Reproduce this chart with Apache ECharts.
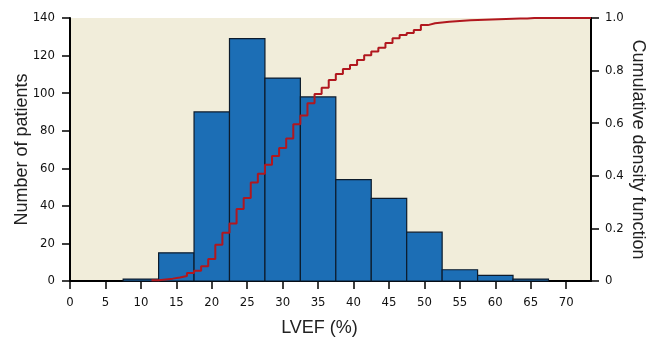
<!DOCTYPE html>
<html>
<head>
<meta charset="utf-8">
<script src="https://cdn.jsdelivr.net/npm/echarts@6/dist/echarts.min.js"></script>
<style>
  html, body { margin: 0; background: #fff; }
  #main { width: 646px; height: 337px; }
</style>
</head>
<body>
<div id="main"></div>
<script>
// histogram bins (LVEF %, centre of each 5-point bin) and patient counts
const binCenters = [10, 15, 20, 25, 30, 35, 40, 45, 50, 55, 60, 65];
const binWidth = 5;
const patientCounts = [1, 15, 90, 129, 108, 98, 54, 44, 26, 6, 3, 1];

// empirical CDF, one value per integer LVEF starting at 12
const cdfStart = 12;
const cdfValues = [
  0.003, 0.006, 0.009, 0.013, 0.019, 0.030, 0.039, 0.056, 0.084, 0.138,
  0.183, 0.219, 0.274, 0.316, 0.375, 0.408, 0.442, 0.475, 0.506, 0.542,
  0.596, 0.629, 0.676, 0.711, 0.735, 0.764, 0.787, 0.806, 0.821, 0.840,
  0.858, 0.873, 0.887, 0.905, 0.923, 0.935, 0.943, 0.954, 0.973, 0.980,
  0.983, 0.986, 0.988, 0.990, 0.991, 0.992, 0.993, 0.994, 0.995, 0.996,
  0.997, 0.998, 0.998, 1.0, 1.0, 1.0, 1.0, 1.0, 1.0, 1.0, 1.0, 1.0
];

const xTicks = [0, 5, 10, 15, 20, 25, 30, 35, 40, 45, 50, 55, 60, 65, 70];
const xMax = 73.5;

const histData = binCenters.map((c, i) => [c, patientCounts[i]]);

// step 'end' with points on the left edge of each integer cell (k - 0.5)
const cdfData = cdfValues.map((v, i) => [cdfStart + i - 0.5, v]);
cdfData.push([xMax, cdfValues[cdfValues.length - 1]]);

const tickFont = "'Liberation Sans Narrow', 'DejaVu Sans Condensed', sans-serif";
const nameFont = "'Liberation Sans', Arial, sans-serif";

const myChart = echarts.init(document.getElementById('main'));

const tickLabel = {
  fontFamily: tickFont,
  fontSize: 13,
  color: '#111'
};

const option = {
  animation: false,
  backgroundColor: '#fff',
  grid: {
    left: 70,
    right: 55,
    top: 18,
    bottom: 56,
    outerBoundsMode: 'none',
    containLabel: false,
    show: true,
    backgroundColor: '#f1edda',
    borderWidth: 0
  },
  xAxis: {
    type: 'value',
    min: 0,
    max: xMax,
    interval: 5,
    name: 'LVEF (%)',
    nameLocation: 'middle',
    nameGap: 38,
    nameMoveOverlap: false,
    nameTextStyle: { fontFamily: nameFont, fontSize: 18, color: '#222', padding: [0, 22, 0, 0] },
    splitLine: { show: false },
    axisLine: { lineStyle: { color: '#000', width: 2 } },
    axisTick: { length: 8, lineStyle: { color: '#000', width: 1.5 }, customValues: xTicks },
    axisLabel: Object.assign({ margin: 15, customValues: xTicks }, tickLabel)
  },
  yAxis: [
    {
      type: 'value',
      min: 0,
      max: 140,
      interval: 20,
      name: 'Number of patients',
      nameLocation: 'middle',
      nameGap: 39,
      nameMoveOverlap: false,
      nameTextStyle: { fontFamily: nameFont, fontSize: 18, color: '#222' },
      splitLine: { show: false },
      axisLine: { show: true, lineStyle: { color: '#000', width: 2 } },
      axisTick: { show: true, length: 8, lineStyle: { color: '#000', width: 1.5 } },
      axisLabel: Object.assign({ margin: 15 }, tickLabel)
    },
    {
      type: 'value',
      position: 'right',
      min: 0,
      max: 1,
      interval: 0.2,
      name: 'Cumulative density function',
      nameLocation: 'middle',
      nameRotate: -90,
      nameGap: 38,
      nameMoveOverlap: false,
      nameTextStyle: { fontFamily: nameFont, fontSize: 18, color: '#222' },
      splitLine: { show: false },
      axisLine: { show: true, lineStyle: { color: '#000', width: 2 } },
      axisTick: { show: true, length: 8, lineStyle: { color: '#000', width: 1.5 } },
      axisLabel: Object.assign({
        margin: 14,
        formatter: v => (v === 0 ? '0' : v.toFixed(1))
      }, tickLabel)
    }
  ],
  series: [
    {
      name: 'patients',
      type: 'custom',
      yAxisIndex: 0,
      encode: { x: 0, y: 1 },
      data: histData,
      renderItem: function (params, api) {
        const c = api.value(0);
        const n = api.value(1);
        const p0 = api.coord([c - binWidth / 2, n]);
        const p1 = api.coord([c + binWidth / 2, 0]);
        return {
          type: 'rect',
          shape: { x: p0[0], y: p0[1], width: p1[0] - p0[0], height: p1[1] - p0[1] },
          style: { fill: '#1c6eb5', stroke: '#0c1b2c', lineWidth: 1.2 }
        };
      },
      z: 2
    },
    {
      name: 'cdf',
      type: 'line',
      yAxisIndex: 1,
      step: 'end',
      symbol: 'none',
      data: cdfData,
      lineStyle: { color: '#b1171e', width: 2 },
      z: 3
    }
  ]
};

myChart.setOption(option);
</script>
</body>
</html>
